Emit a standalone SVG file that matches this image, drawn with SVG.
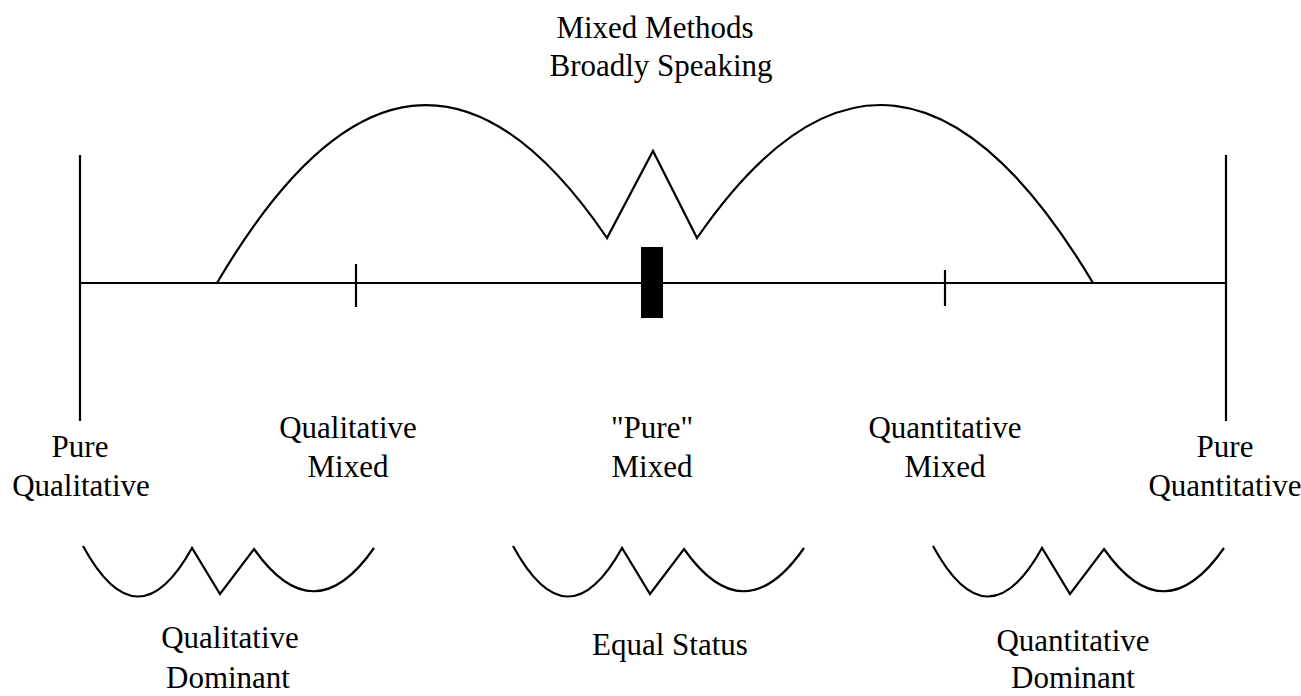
<svg xmlns="http://www.w3.org/2000/svg" width="1301" height="696" viewBox="0 0 1301 696">
<style>
.ln{fill:none;stroke:#000;stroke-width:2.2;stroke-linejoin:miter;stroke-linecap:butt}
.tx{font-family:"Liberation Serif","Times New Roman",serif;font-size:31px;fill:#000;text-anchor:middle}
</style>
<defs>
<path id="wave" class="ln" d="M0,0 Q54.5,100 109,2 L137,48 L171,3 Q231,88 291,2"/>
</defs>
<rect width="1301" height="696" fill="#fff"/>
<g id="connectors">
<line class="ln" x1="80" y1="283" x2="1226" y2="283"/>
<line class="ln" x1="80" y1="155" x2="80" y2="421"/>
<line class="ln" x1="1226" y1="155" x2="1226" y2="421"/>
<line class="ln" x1="356" y1="264" x2="356" y2="307"/>
<line class="ln" x1="945" y1="270" x2="945" y2="306"/>
<path class="ln" d="M217,283 Q412,-48.8 607,238 L653,151 L697,238 Q895,-48.9 1093,283"/>
<rect x="641" y="247" width="22" height="71" fill="#000"/>
</g>
<g id="title">
<text class="tx" x="655" y="38">Mixed Methods</text>
<text class="tx" x="661" y="76">Broadly Speaking</text>
</g>
<g id="pure-qualitative">
<text class="tx" x="80" y="457">Pure</text>
<text class="tx" x="81" y="496">Qualitative</text>
</g>
<g id="qualitative-mixed">
<text class="tx" x="348" y="438">Qualitative</text>
<text class="tx" x="348" y="477">Mixed</text>
</g>
<g id="pure-mixed">
<text class="tx" x="652" y="438">"Pure"</text>
<text class="tx" x="652" y="477">Mixed</text>
</g>
<g id="quantitative-mixed">
<text class="tx" x="945" y="438">Quantitative</text>
<text class="tx" x="945" y="477">Mixed</text>
</g>
<g id="pure-quantitative">
<text class="tx" x="1225" y="457">Pure</text>
<text class="tx" x="1225" y="496">Quantitative</text>
</g>
<g id="qualitative-dominant">
<use href="#wave" x="83" y="546"/>
<text class="tx" x="230" y="648">Qualitative</text>
<text class="tx" x="228" y="688">Dominant</text>
</g>
<g id="equal-status">
<use href="#wave" x="513" y="546"/>
<text class="tx" x="670" y="655">Equal Status</text>
</g>
<g id="quantitative-dominant">
<use href="#wave" x="933" y="546"/>
<text class="tx" x="1073" y="651">Quantitative</text>
<text class="tx" x="1073" y="688">Dominant</text>
</g>
</svg>
